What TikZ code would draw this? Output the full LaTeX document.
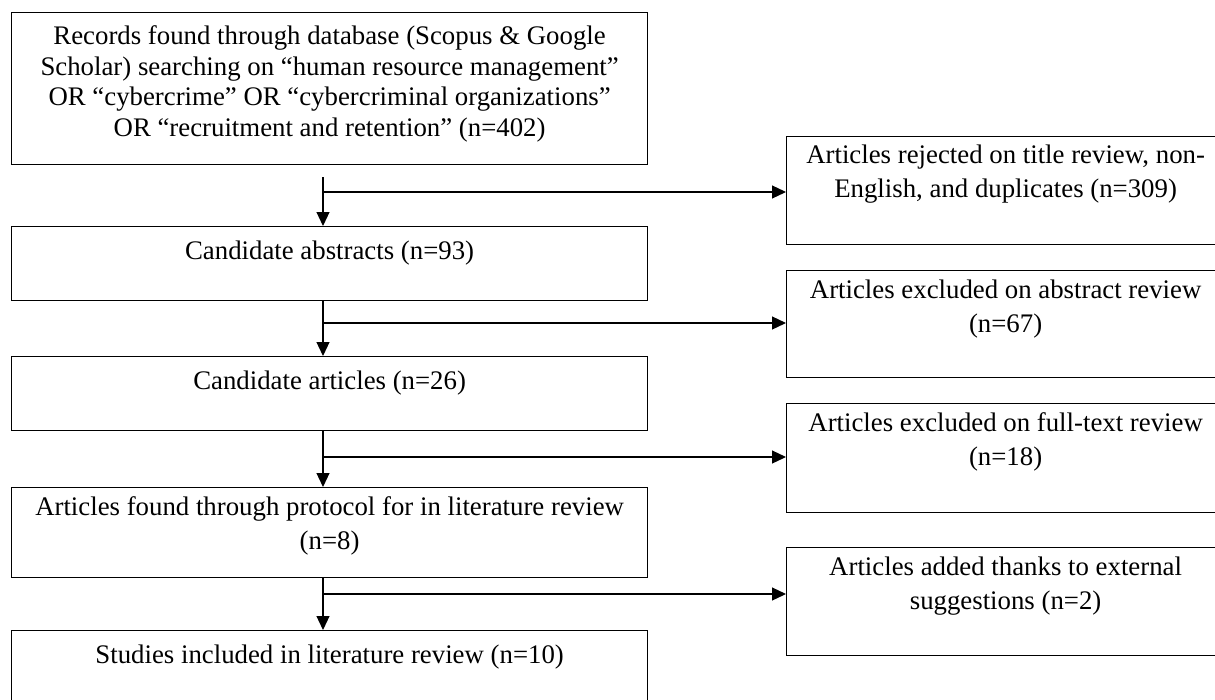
\documentclass[tikz,border=0pt]{standalone}
\usepackage{fontspec}
\setmainfont{Liberation Serif}
\usetikzlibrary{arrows.meta,calc}
\begin{document}
\begin{tikzpicture}[x=1pt,y=-1pt,
  box/.style={draw=black, line width=1.2pt, rectangle, inner sep=0pt, anchor=north west},
  lbox/.style={box, minimum width=636pt},
  rbox/.style={box, minimum width=438pt},
  txt/.style={anchor=north, align=center, inner sep=0pt, font=\fontsize{26.8}{34}\selectfont, execute at begin node=\strut},
  arr/.style={line width=1.2pt, -{Triangle[length=14pt,width=13pt]}},
]
\useasboundingbox (0,0) rectangle (1215,699);

% left column
\node[lbox, minimum height=152pt] (b1) at (11,12) {};
\node[lbox, minimum height=74pt]  (b2) at (11,226) {};
\node[lbox, minimum height=74pt]  (b3) at (11,356) {};
\node[lbox, minimum height=90pt]  (b4) at (11,487) {};
\node[lbox, minimum height=100pt] (b5) at (11,630) {};

% right column
\node[rbox, minimum height=108pt] (r1) at (786,136) {};
\node[rbox, minimum height=107pt] (r2) at (786,270) {};
\node[rbox, minimum height=109pt] (r3) at (786,403) {};
\node[rbox, minimum height=108pt] (r4) at (786,547) {};

% texts (first baseline = top + 33; strut height = 0.7 x baselineskip)
\node[txt, font=\fontsize{26.8}{30.5}\selectfont] (t1) at ($(b1.north)+(0,35-21.35)$) {Records found through database (Scopus \& Google\\Scholar) searching on “human resource management”\\OR “cybercrime” OR “cybercriminal organizations”\\OR “recruitment and retention” (n=402)};
\node[txt] (t2) at ($(b2.north)+(0,33-23.8)$) {Candidate abstracts (n=93)};
\node[txt] (t3) at ($(b3.north)+(0,33-23.8)$) {Candidate articles (n=26)};
\node[txt] (t4) at ($(b4.north)+(0,33-23.8)$) {Articles found through protocol for in literature review\\(n=8)};
\node[txt] (t5) at ($(b5.north)+(0,33-23.8)$) {Studies included in literature review (n=10)};
\node[txt] (u1) at ($(r1.north)+(0,33-23.8)$) {Articles rejected on title review, non-\\English, and duplicates (n=309)};
\node[txt] (u2) at ($(r2.north)+(0,33-23.8)$) {Articles excluded on abstract review\\(n=67)};
\node[txt] (u3) at ($(r3.north)+(0,33-23.8)$) {Articles excluded on full-text review\\(n=18)};
\node[txt] (u4) at ($(r4.north)+(0,33-23.8)$) {Articles added thanks to external\\suggestions (n=2)};

% connectors
\coordinate (s1) at (323,177);
\coordinate (j1) at (323,192);
\coordinate (j2) at (323,323);
\coordinate (j3) at (323,457);
\coordinate (j4) at (323,594);

\draw[arr] (s1) -- (s1 |- b2.north);
\draw[arr] (s1 |- b2.south) -- (s1 |- b3.north);
\draw[arr] (s1 |- b3.south) -- (s1 |- b4.north);
\draw[arr] (s1 |- b4.south) -- (s1 |- b5.north);

\draw[arr] (j1) -- (j1 -| r1.west);
\draw[arr] (j2) -- (j2 -| r2.west);
\draw[arr] (j3) -- (j3 -| r3.west);
\draw[arr] (j4) -- (j4 -| r4.west);
\end{tikzpicture}
\end{document}
